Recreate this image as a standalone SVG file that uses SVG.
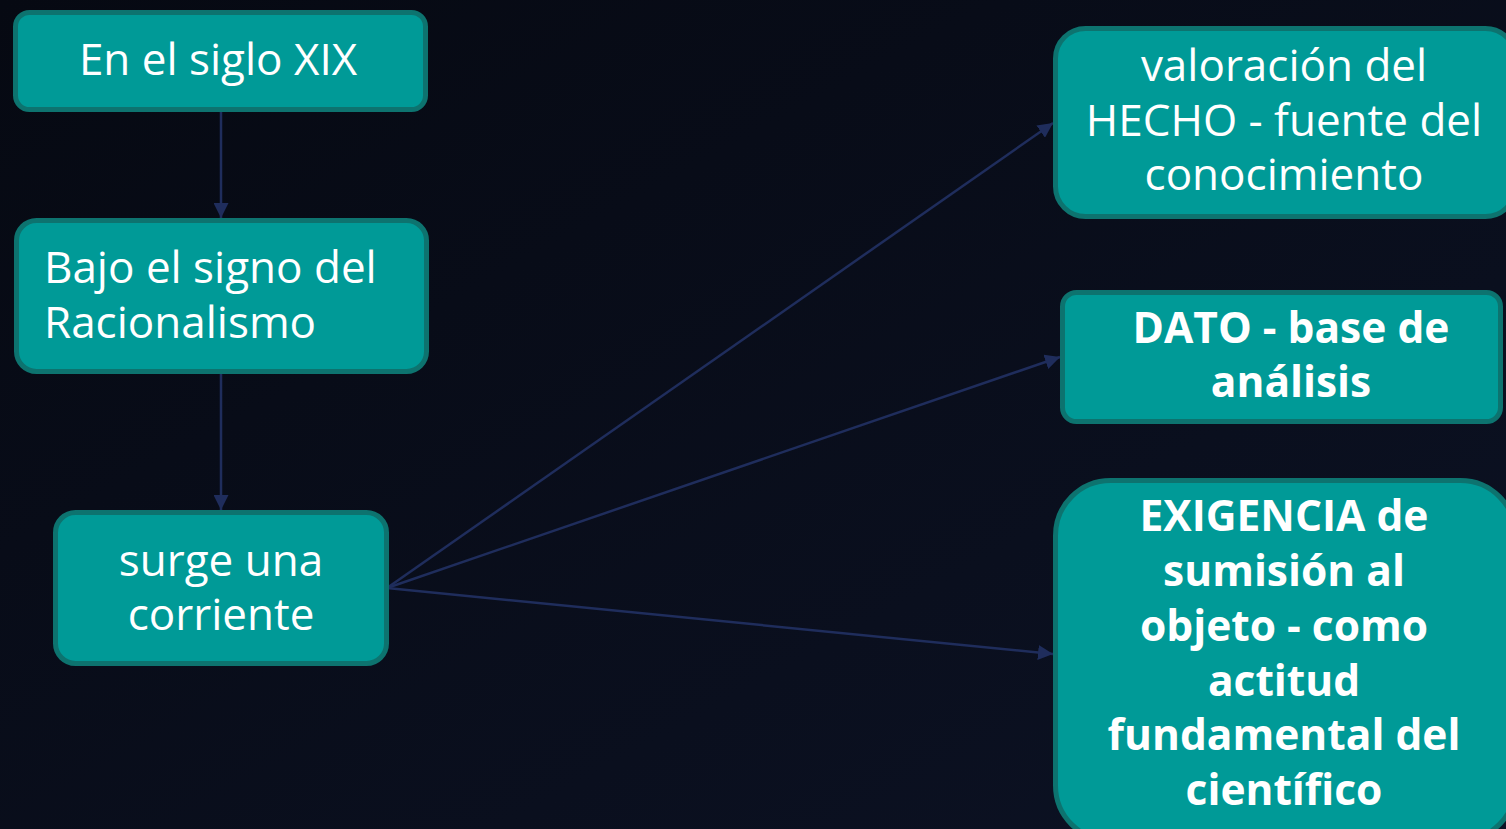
<svg xmlns="http://www.w3.org/2000/svg" width="1506" height="829" viewBox="0 0 1506 829">
<defs>
<linearGradient id="bg" x1="0" y1="0" x2="1" y2="1">
<stop offset="0" stop-color="#060912"/>
<stop offset="1" stop-color="#0c1224"/>
</linearGradient>
<marker id="arrL" viewBox="0 0 10 10" refX="10" refY="5" markerWidth="15" markerHeight="15" markerUnits="userSpaceOnUse" orient="auto">
<path d="M0,0 L10,5 L0,10 z" fill="#1f2d5c"/>
</marker>
<style>
.box{fill:#009a97;stroke:#0d736f;stroke-width:5}
.t{font-family:"Open Sans","Noto Sans",sans-serif;font-size:44px;fill:#ffffff}
.c{text-anchor:middle}
.b{font-weight:bold;font-size:42.5px}
.conn{stroke:#1f2d5c;stroke-width:2.5;fill:none}
</style>
</defs>
<rect x="0" y="0" width="1506" height="829" fill="url(#bg)"/>
<g id="connectors">
<line class="conn" x1="221" y1="112" x2="221" y2="218" marker-end="url(#arrL)"/>
<line class="conn" x1="221" y1="374" x2="221" y2="510" marker-end="url(#arrL)"/>
<line class="conn" x1="387" y1="588" x2="1053" y2="123" marker-end="url(#arrL)"/>
<line class="conn" x1="387" y1="588" x2="1060" y2="357" marker-end="url(#arrL)"/>
<line class="conn" x1="387" y1="588" x2="1053" y2="654" marker-end="url(#arrL)"/>
</g>
<g id="n1">
<rect class="box" x="15.5" y="12.5" width="410" height="97" rx="14"/>
<text class="t c" x="218" y="75">En el siglo XIX</text>
</g>
<g id="n2">
<rect class="box" x="16.5" y="220.5" width="410" height="151" rx="20"/>
<text class="t" x="44" y="283">Bajo el signo del</text>
<text class="t" x="44" y="338">Racionalismo</text>
</g>
<g id="n3">
<rect class="box" x="55.5" y="512.5" width="331" height="151" rx="20"/>
<text class="t c" x="221" y="576">surge una</text>
<text class="t c" x="221" y="630">corriente</text>
</g>
<g id="n4">
<rect class="box" x="1055.5" y="28.5" width="460" height="188" rx="30"/>
<text class="t c" x="1284" y="81">valoración del</text>
<text class="t c" x="1284" y="136">HECHO - fuente del</text>
<text class="t c" x="1284" y="190">conocimiento</text>
</g>
<g id="n5">
<rect class="box" x="1062.5" y="292.5" width="438" height="129" rx="14"/>
<text class="t c b" x="1291" y="343">DATO - base de</text>
<text class="t c b" x="1291" y="397">análisis</text>
</g>
<g id="n6">
<rect class="box" x="1055.5" y="480.5" width="460" height="360" rx="55"/>
<text class="t c b" x="1284" y="531">EXIGENCIA de</text>
<text class="t c b" x="1284" y="586">sumisión al</text>
<text class="t c b" x="1284" y="641">objeto - como</text>
<text class="t c b" x="1284" y="696">actitud</text>
<text class="t c b" x="1284" y="750">fundamental del</text>
<text class="t c b" x="1284" y="805">científico</text>
</g>
</svg>
